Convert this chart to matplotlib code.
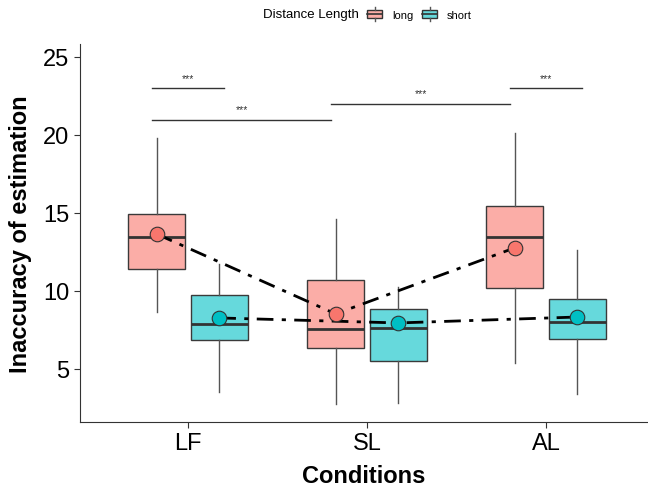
import matplotlib.pyplot as plt
from matplotlib.patches import Rectangle
from matplotlib.lines import Line2D
from matplotlib.legend_handler import HandlerBase

plt.rcParams['font.family'] = ['Liberation Sans', 'DejaVu Sans']

conditions = ['LF', 'SL', 'AL']
groups = ['long', 'short']
colors = {'long': '#F8766D', 'short': '#00BFC4'}
fills = {'long': '#FBADA7', 'short': '#66D9DC'}

# box stats: whislo, q1, median, q3, whishi, mean
long_whislo = [8.65, 2.76, 5.38]
long_q1 = [11.4, 6.35, 10.19]
long_med = [13.46, 7.56, 13.46]
long_q3 = [14.94, 10.7, 15.45]
long_whishi = [19.8, 14.6, 20.1]
long_mean = [13.65, 8.53, 12.76]

short_whislo = [3.53, 2.82, 3.4]
short_q1 = [6.86, 5.51, 6.92]
short_med = [7.9, 7.63, 8.0]
short_q3 = [9.74, 8.85, 9.5]
short_whishi = [11.73, 10.26, 12.6]
short_mean = [8.27, 7.95, 8.33]

# significance brackets: (x start, x end, y, label)
sig_x1 = [0.8, 0.8, 1.8, 2.8]
sig_x2 = [1.2, 1.8, 2.8, 3.2]
sig_y = [23.0, 20.96, 21.99, 23.0]
sig_lab = ['***', '***', '***', '***']

stats = {
    'long': (long_whislo, long_q1, long_med, long_q3, long_whishi, long_mean),
    'short': (short_whislo, short_q1, short_med, short_q3, short_whishi, short_mean),
}
offsets = {'long': -0.175, 'short': 0.175}

fig = plt.figure(figsize=(6.48, 4.89), dpi=100)
ax = fig.add_axes([80 / 648, 66 / 489, 568 / 648, 378 / 489])

xs = [1, 2, 3]
for g in groups:
    lo, q1, med, q3, hi, mn = stats[g]
    bx = [dict(whislo=lo[i], q1=q1[i], med=med[i], q3=q3[i], whishi=hi[i],
               fliers=[], mean=mn[i]) for i in range(3)]
    pos = [x + offsets[g] for x in xs]
    ax.bxp(bx, positions=pos, widths=0.32, showcaps=False, showfliers=False,
           patch_artist=True,
           boxprops=dict(facecolor=fills[g], edgecolor='#3a3a3a', linewidth=1),
           medianprops=dict(color='#333333', linewidth=2),
           whiskerprops=dict(color='#555555', linewidth=1), manage_ticks=False)
    ax.plot(pos, mn, color='black', linestyle=(0, (6, 3, 1.5, 3)), linewidth=2, zorder=4)
    ax.scatter(pos, mn, s=110, color=colors[g], edgecolor='#333333', linewidth=0.8, zorder=5)

for x1, x2, y, lab in zip(sig_x1, sig_x2, sig_y, sig_lab):
    ax.plot([x1, x2], [y, y], color='#333333', linewidth=1)
    ax.text((x1 + x2) / 2, y + 0.35, lab, ha='center', va='bottom', fontsize=7.5, color='#333333')

ax.set_xlim(0.397, 3.57)
ax.set_ylim(1.6, 25.83)
ax.set_xticks(xs)
ax.set_xticklabels(conditions)
ax.set_yticks([5, 10, 15, 20, 25])
ax.tick_params(labelsize=17, color='#333333', length=4)
ax.spines['top'].set_visible(False)
ax.spines['right'].set_visible(False)
for s in ['left', 'bottom']:
    ax.spines[s].set_color('#333333')
ax.set_xlabel('Conditions', fontsize=17, fontweight='bold', labelpad=7)
ax.set_ylabel('Inaccuracy of estimation', fontsize=17, fontweight='bold', labelpad=8)


class BoxHandler(HandlerBase):
    def create_artists(self, legend, orig_handle, xdescent, ydescent, width, height, fontsize, trans):
        c = orig_handle.get_facecolor()
        r = Rectangle((-xdescent, -ydescent + height * 0.15), width, height * 0.7,
                      facecolor=c, edgecolor='#333333', linewidth=1, transform=trans)
        m = Line2D([-xdescent, -xdescent + width], [-ydescent + height / 2] * 2,
                   color='#333333', linewidth=1.2, transform=trans)
        w1 = Line2D([-xdescent + width / 2] * 2, [-ydescent - height * 0.15, -ydescent + height * 0.15],
                    color='#555555', linewidth=1, transform=trans)
        w2 = Line2D([-xdescent + width / 2] * 2, [-ydescent + height * 0.85, -ydescent + height * 1.15],
                    color='#555555', linewidth=1, transform=trans)
        return [r, m, w1, w2]


handles = [Rectangle((0, 0), 1, 1, facecolor=fills[g]) for g in groups]
fig.text(263 / 648, 1 - 15 / 489, 'Distance Length', fontsize=9.5, va='center', ha='left')
fig.legend(handles, groups, loc='center left', bbox_to_anchor=(367 / 648, 1 - 15 / 489),
           ncol=2, frameon=False, fontsize=8, handler_map={Rectangle: BoxHandler()},
           handlelength=1.35, handleheight=1.2, handletextpad=0.9, columnspacing=0.8,
           borderpad=0, borderaxespad=0)

fig.savefig('out.png', dpi=100)
